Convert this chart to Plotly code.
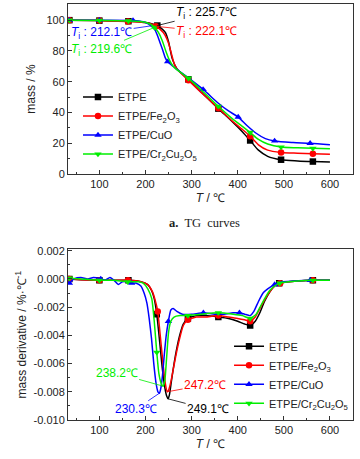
import plotly.graph_objects as go

SERIES = ["ETPE", "ETPE/Fe<sub>2</sub>O<sub>3</sub>", "ETPE/CuO", "ETPE/Cr<sub>2</sub>Cu<sub>2</sub>O<sub>5</sub>"]
COLORS = ["#000000", "#FF0000", "#0000FF", "#00EE00"]
SYMBOLS = ["square", "circle", "triangle-up", "triangle-down"]

# ---------------- TG data (T in degC, mass in %) ----------------
TG_T_ETPE = [35, 100, 163, 200, 215, 225.7, 235, 243, 250, 258, 268, 293, 325, 358, 390, 410, 427, 445, 465, 494, 530, 563, 600]
TG_M_ETPE = [100, 99.7, 99.3, 98.5, 97.6, 96.5, 94.5, 92, 86, 75, 68.5, 61.5, 52, 42.5, 33.5, 27.5, 21.8, 15.5, 11.5, 9.3, 8.5, 8.1, 7.8]
TG_MK_ETPE = [35, 100, 163, 225.7, 293, 358, 427, 494, 563]

TG_T_FE = [35, 100, 162, 200, 215, 222.1, 232, 242, 250, 256, 262, 268, 293, 325, 358, 390, 410, 427, 445, 465, 494, 530, 563, 600]
TG_M_FE = [100, 99.7, 99.2, 98.4, 97.2, 96, 94, 90.5, 85, 78.5, 72, 68.3, 61, 51.8, 42.8, 34, 29, 24.5, 19, 15.5, 14, 13.5, 13.2, 12.8]
TG_MK_FE = [35, 100, 162, 222.1, 293, 358, 427, 494, 563]

TG_T_CUO = [35, 100, 173, 195, 205, 212.1, 220, 226, 232, 238, 243, 248, 258, 268, 293, 325, 358, 380, 401, 420, 440, 460, 480, 520, 557, 600]
TG_M_CUO = [100, 100, 99.8, 99, 97.8, 96.3, 94, 90, 85, 80, 75.5, 73, 70.5, 68, 62.5, 55, 46, 41, 37, 31.5, 26.5, 23, 21.5, 20.5, 20, 19]
TG_MK_CUO = [35, 100, 173, 248, 325, 401, 480, 557]

TG_T_CR = [35, 100, 163, 200, 212, 219.6, 228, 236, 244, 252, 260, 268, 293, 325, 358, 390, 410, 427, 445, 465, 494, 530, 563, 600]
TG_M_CR = [100, 99.8, 99.5, 98.6, 97, 95.3, 92, 87, 80, 74, 70, 67.8, 62.3, 53.5, 44, 35.5, 31, 27, 22.5, 19.5, 17.5, 17, 16.7, 16.4]
TG_MK_CR = [35, 100, 163, 219.6, 293, 358, 427, 494, 563]

# ---------------- DTG data (T in degC, derivative in %/degC) ----------------
DTG_T_ETPE = [35, 60, 100, 130, 163, 190, 205, 213, 219, 224.5, 230, 236, 242, 246, 249.1, 252, 256, 262, 268, 275, 282, 292, 310, 330, 358, 380, 400, 415, 427, 438, 448, 458, 470, 480, 490, 510, 530, 563, 600]
DTG_V_ETPE = [0.0, -0.00005, -0.0001, -0.0001, -0.0001, -0.0002, -0.0004, -0.0008, -0.0014, -0.0025, -0.0042, -0.0062, -0.0077, -0.0083, -0.0085, -0.0082, -0.0073, -0.0060, -0.0049, -0.0039, -0.0032, -0.0028, -0.0026, -0.0026, -0.0027, -0.0028, -0.0030, -0.0032, -0.0033, -0.0030, -0.0024, -0.0016, -0.0009, -0.0005, -0.0003, -0.0002, -0.00015, -0.0001, -0.0001]
DTG_MK_ETPE = [35, 100, 163, 224.5, 292, 358, 427, 490, 563]

DTG_T_FE = [35, 60, 100, 130, 162, 190, 205, 215, 221, 226.6, 232, 238, 243, 247.2, 250, 255, 262, 268, 275, 282, 292, 310, 330, 358, 380, 400, 415, 427, 438, 448, 458, 470, 480, 492, 510, 530, 563, 600]
DTG_V_FE = [0.0, -0.00005, -0.0001, -0.0001, -0.0001, -0.0002, -0.0004, -0.0009, -0.0015, -0.0023, -0.0040, -0.0060, -0.0074, -0.0080, -0.0079, -0.0073, -0.0061, -0.0051, -0.0041, -0.0033, -0.0029, -0.0027, -0.0027, -0.0026, -0.0027, -0.0028, -0.0029, -0.0030, -0.0027, -0.0021, -0.0015, -0.0009, -0.0005, -0.0003, -0.0002, -0.00015, -0.0001, -0.0001]
DTG_MK_FE = [35, 100, 162, 226.6, 292, 358, 427, 492, 563]

DTG_T_CUO = [35, 45, 60, 75, 87, 103, 112, 123, 132, 141, 150, 160, 170, 180, 190, 197, 203, 208, 213, 218, 223, 227, 230.3, 233, 237, 241, 245, 249.7, 255, 260, 268, 280, 300, 325.6, 350, 370, 390, 403.7, 415, 427, 435, 445, 455, 465, 480, 495, 520, 557, 600]
DTG_V_CUO = [-0.0003, 0.0, 0.0001, 0.0, 0.0001, 0.0, -0.0001, 0.0001, -0.0001, -0.0004, -0.0002, -0.0002, -0.0003, -0.0003, -0.0005, -0.0010, -0.0017, -0.0028, -0.0042, -0.0060, -0.0074, -0.0080, -0.0081, -0.0078, -0.0068, -0.0053, -0.0040, -0.0030, -0.0022, -0.0021, -0.0023, -0.0025, -0.0025, -0.0024, -0.0025, -0.0025, -0.0024, -0.0024, -0.0025, -0.0026, -0.0023, -0.0016, -0.0010, -0.0007, -0.0004, -0.0002, -0.00015, -0.0001, -0.0001]
DTG_MK_CUO = [35, 103, 170, 249.7, 325.6, 403.7, 480, 557]

DTG_T_CR = [35, 60, 100, 130, 161.6, 185, 195, 205, 213.6, 219, 224.5, 229, 234, 238.2, 242, 246, 250, 255, 262, 275, 292, 320, 358, 390, 410, 427, 440, 450, 460, 470, 480, 491, 510, 530, 563, 600]
DTG_V_CR = [0.00005, 0.0, -0.0001, -0.0001, -0.0002, -0.0002, -0.0003, -0.0007, -0.0014, -0.0030, -0.0052, -0.0067, -0.0074, -0.0076, -0.0072, -0.0055, -0.0038, -0.0030, -0.0027, -0.0026, -0.0026, -0.0025, -0.0024, -0.0025, -0.0026, -0.0028, -0.0025, -0.0019, -0.0013, -0.0008, -0.0005, -0.0003, -0.0002, -0.00015, -0.0001, -0.0001]
DTG_MK_CR = [35, 100, 161.6, 224.5, 292, 358, 427, 491, 563]

X_TICKS = [100, 200, 300, 400, 500, 600]
TG_TICKS = [0, 20, 40, 60, 80, 100]
DTG_TICKS = [-0.010, -0.008, -0.006, -0.004, -0.002, 0.000, 0.002]
DTG_TICK_TEXT = ["-0.010", "-0.008", "-0.006", "-0.004", "-0.002", "0.000", "0.002"]

TG_LABELS = [("<i>T</i><sub>i</sub> : 225.7℃", 225.7, 332.6, 104.5),
             ("<i>T</i><sub>i</sub> : 222.1℃", 222.1, 332.6, 92.6),
             ("<i>T</i><sub>i</sub> : 212.1℃", 212.1, 105, 91.6),
             ("<i>T</i><sub>i</sub> : 219.6℃", 219.6, 105, 80.7)]
DTG_LABELS = [("249.1℃", 249.1, 335.8, -0.00924),
              ("247.2℃", 247.2, 329.3, -0.00751),
              ("230.3℃", 230.3, 178.5, -0.00924),
              ("238.2℃", 238.2, 137.6, -0.00668)]

TG = [(TG_T_ETPE, TG_M_ETPE, TG_MK_ETPE), (TG_T_FE, TG_M_FE, TG_MK_FE),
      (TG_T_CUO, TG_M_CUO, TG_MK_CUO), (TG_T_CR, TG_M_CR, TG_MK_CR)]
DTG = [(DTG_T_ETPE, DTG_V_ETPE, DTG_MK_ETPE), (DTG_T_FE, DTG_V_FE, DTG_MK_FE),
       (DTG_T_CUO, DTG_V_CUO, DTG_MK_CUO), (DTG_T_CR, DTG_V_CR, DTG_MK_CR)]

for t, v, _ in TG + DTG:
    assert len(t) == len(v), (len(t), len(v))

FONT = "Liberation Sans, Arial, sans-serif"
fig = go.Figure()

def add_panel(data, xa, ya, legend, smoothing):
    for i, (t, v, mk) in enumerate(data):
        lut = dict(zip(t, v))
        fig.add_trace(go.Scatter(x=t, y=v, mode="lines", xaxis=xa, yaxis=ya,
                                 line=dict(color=COLORS[i], width=1.5, shape="spline", smoothing=smoothing),
                                 showlegend=False, hoverinfo="skip"))
        fig.add_trace(go.Scatter(x=mk, y=[lut[m] for m in mk], mode="markers", xaxis=xa, yaxis=ya,
                                 marker=dict(color=COLORS[i], symbol=SYMBOLS[i], size=6.5, line=dict(width=0)),
                                 showlegend=False, hoverinfo="skip"))
        fig.add_trace(go.Scatter(x=[None], y=[None], mode="lines+markers", xaxis=xa, yaxis=ya,
                                 name=SERIES[i], legend=legend,
                                 line=dict(color=COLORS[i], width=1.5),
                                 marker=dict(color=COLORS[i], symbol=SYMBOLS[i], size=6.5)))

add_panel(TG, "x", "y", "legend", 0.8)
add_panel(DTG, "x2", "y2", "legend2", 0.5)

annotations = []
for i, (txt, tx, ax, ay) in enumerate(TG_LABELS):
    lut = dict(zip(TG[i][0], TG[i][1]))
    annotations.append(dict(x=tx, y=lut[tx], xref="x", yref="y", ax=ax, ay=ay, axref="x", ayref="y",
                            text=txt, showarrow=True, arrowhead=0, arrowwidth=0.8, arrowcolor=COLORS[i],
                            font=dict(color=COLORS[i], size=12, family=FONT), standoff=0))
for i, (txt, tx, ax, ay) in enumerate(DTG_LABELS):
    lut = dict(zip(DTG[i][0], DTG[i][1]))
    annotations.append(dict(x=tx, y=lut[tx], xref="x2", yref="y2", ax=ax, ay=ay, axref="x2", ayref="y2",
                            text=txt, showarrow=True, arrowhead=0, arrowwidth=0.8, arrowcolor=COLORS[i],
                            font=dict(color=COLORS[i], size=12, family=FONT), standoff=0))
annotations.append(dict(x=0.479, y=0.4736, xref="paper", yref="paper", showarrow=False,
                        text="<b>a.</b>  TG  curves", font=dict(size=12.5, family="Liberation Serif, Times New Roman, serif", color="#222")))

axis_common = dict(showline=True, linecolor="#333", linewidth=1, mirror=True, ticks="inside",
                   ticklen=4, tickwidth=1, tickcolor="#333", showgrid=False, zeroline=False,
                   automargin=False, tickfont=dict(size=11, family=FONT, color="#222"))
fig.update_layout(
    width=360, height=459, margin=dict(l=68, r=7, t=4, b=39, autoexpand=False),
    paper_bgcolor="white", plot_bgcolor="white",
    font=dict(family=FONT, size=11, color="#222"),
    xaxis=dict(domain=[0, 1], range=[32, 650], tickvals=X_TICKS, anchor="y",
               minor=dict(dtick=50, tick0=0, ticklen=2, ticks="inside", tickcolor="#333"),
               title=dict(text="<i>T</i> / ℃", font=dict(size=12), standoff=4), **axis_common),
    yaxis=dict(domain=[0.5913, 1], range=[0, 110.5], tickvals=TG_TICKS, anchor="x",
               minor=dict(dtick=10, tick0=0, ticklen=2, ticks="inside", tickcolor="#333"),
               title=dict(text="mass / %", font=dict(size=12), standoff=8), **axis_common),
    xaxis2=dict(domain=[0, 1], range=[32, 650], tickvals=X_TICKS, anchor="y2",
                minor=dict(dtick=50, tick0=0, ticklen=2, ticks="inside", tickcolor="#333"),
                title=dict(text="<i>T</i> / ℃", font=dict(size=12), standoff=4), **axis_common),
    yaxis2=dict(domain=[0, 0.4103], range=[-0.010, 0.0021], tickvals=DTG_TICKS, ticktext=DTG_TICK_TEXT, anchor="x2",
                minor=dict(dtick=0.001, tick0=0, ticklen=2, ticks="inside", tickcolor="#333"),
                title=dict(text="mass derivative / %·℃<sup>-1</sup>", font=dict(size=12), standoff=4), **axis_common),
    legend=dict(x=0.035, y=0.811, xanchor="left", yanchor="top", bgcolor="rgba(0,0,0,0)",
                font=dict(size=11, family=FONT), itemwidth=30, tracegroupgap=0),
    legend2=dict(x=0.565, y=0.212, xanchor="left", yanchor="top", bgcolor="rgba(0,0,0,0)",
                 font=dict(size=11, family=FONT), itemwidth=30, tracegroupgap=0),
    annotations=annotations,
)
fig.write_html("out.html", config={"displayModeBar": False},
               post_script="document.body.style.margin='0px';")
